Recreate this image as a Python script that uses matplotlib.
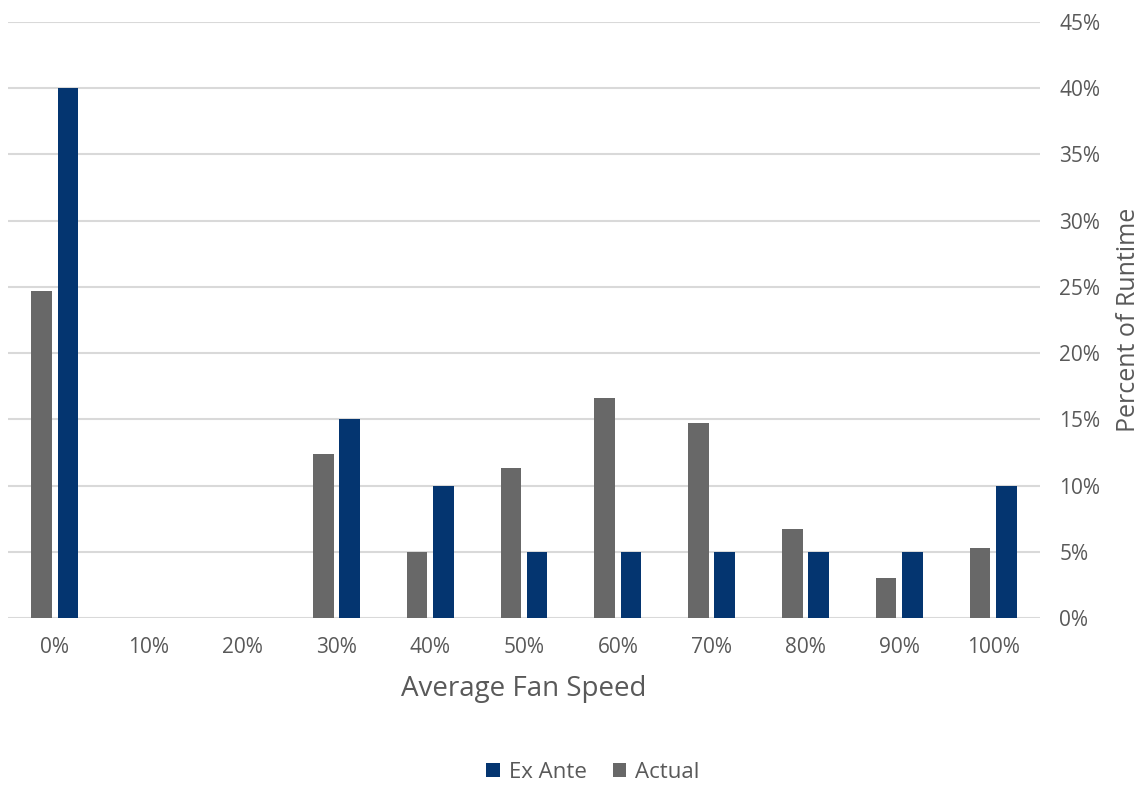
import matplotlib.pyplot as plt
import numpy as np

speeds = ['0%', '10%', '20%', '30%', '40%', '50%', '60%', '70%', '80%', '90%', '100%']
ex_ante = [40, 0, 0, 15, 10, 5, 5, 5, 5, 5, 10]
actual = [24.7, 0, 0, 12.35, 5, 11.3, 16.6, 14.7, 6.7, 3.0, 5.3]

blue = '#043570'
grey = '#686868'
text_c = '#595959'

plt.rcParams['font.family'] = ['Open Sans', 'DejaVu Sans']

fig = plt.figure(figsize=(11.46, 7.9), dpi=100)
ax = fig.add_axes([8 / 1146, 1 - 618 / 790, 1032 / 1146, 596 / 790])

x = np.arange(len(speeds))
w = 0.22
ax.bar(x - 0.14, actual, width=w, color=grey, label='Actual', zorder=3)
ax.bar(x + 0.14, ex_ante, width=w, color=blue, label='Ex Ante', zorder=3)

ax.set_xlim(-0.5, len(speeds) - 0.5)
ax.set_ylim(0, 45)
ax.set_yticks(np.arange(0, 46, 5))
ax.set_yticklabels([f'{v}%' for v in range(0, 46, 5)])
ax.set_xticks(x)
ax.set_xticklabels(speeds)

ax.yaxis.tick_right()
ax.yaxis.set_label_position('right')
ax.grid(axis='y', color='#d9d9d9', linewidth=1.5, zorder=0)
for s in ax.spines.values():
    s.set_visible(False)
ax.tick_params(axis='both', length=0, labelsize=15, labelcolor=text_c)
ax.tick_params(axis='y', pad=14)
ax.tick_params(axis='x', pad=14)

ax.set_xlabel('Average Fan Speed', fontsize=20, color=text_c, labelpad=12)
ax.set_ylabel('Percent of Runtime', fontsize=18, color=text_c, labelpad=11)

handles, labels = ax.get_legend_handles_labels()
fig.legend(handles[::-1], labels[::-1], loc='center', bbox_to_anchor=(593 / 1146, 1 - 772 / 790),
           ncol=2, frameon=False, fontsize=16, labelcolor=text_c,
           handlelength=0.6, handleheight=0.6, handletextpad=0.4, columnspacing=1.2)

fig.savefig('out.png', dpi=100)
